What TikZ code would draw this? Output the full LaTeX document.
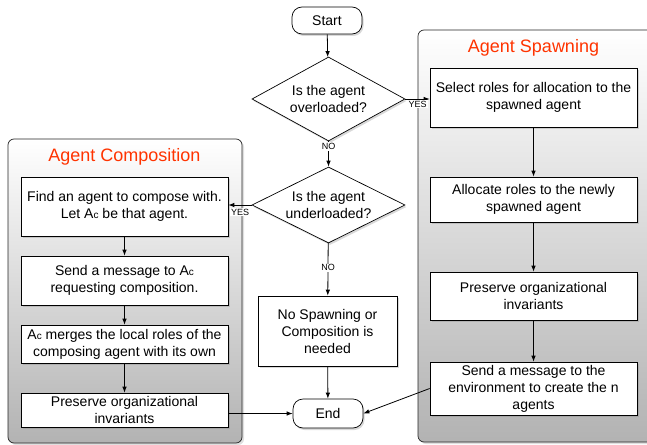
\documentclass[tikz,border=0pt]{standalone}
\usepackage{fontspec}
\setmainfont{Liberation Sans}
\usetikzlibrary{arrows.meta,shapes.geometric,shadows}
\definecolor{titlered}{RGB}{255,51,0}
\newcommand{\AgC}{A{\fontsize{10}{12}\selectfont c}}
\begin{document}
\begin{tikzpicture}[x=1pt,y=-1pt,
  shad/.style={drop shadow={opacity=0.3, shadow xshift=1.5pt, shadow yshift=-2pt}},
  box/.style={draw=black, line width=0.7pt, fill=white, rectangle, minimum width=207pt, align=center, inner sep=2pt, font=\fontsize{14}{17}\selectfont, shad},
  term/.style={draw=black, line width=0.7pt, fill=white, rounded corners=10pt, minimum width=70pt, align=center, inner sep=2pt, font=\fontsize{14}{17}\selectfont, shad},
  dia/.style={draw=black, line width=0.7pt, fill=white, diamond, inner sep=0pt, minimum width=153pt, shad},
  diatext/.style={align=center, font=\fontsize{14}{17}\selectfont, inner sep=0pt},
  cont/.style={draw=black!85, line width=0.7pt, rounded corners=6pt, top color=white, bottom color=black!30, rectangle, drop shadow={opacity=0.25, shadow xshift=2pt, shadow yshift=-2pt}},
  ttl/.style={text=titlered, font=\fontsize{18}{22}\selectfont},
  lbl/.style={fill=white, font=\fontsize{9}{10}\selectfont, inner sep=1pt},
  arr/.style={draw=black, line width=0.8pt, -{Latex[length=6pt,width=4.5pt]}}
]
\clip (0,0) rectangle (647,444);
% containers
\node[cont, minimum width=234pt, minimum height=304pt] (compbox) at (125,291) {};
\node[cont, minimum width=242pt, minimum height=412pt] (spawnbox) at (539,236) {};
\node[ttl] (tcomp) at (124.5,157) {Agent Composition};
\node[ttl] (tspawn) at (533.5,48) {Agent Spawning};
% main column
\node[term, minimum height=27pt] (start) at (327,20.5) {Start};
\node[dia, minimum height=84pt] (d1) at (328.5,99) {};
\node[diatext] (d1t) at (d1) {Is the agent\\overloaded?};
\node[dia, minimum height=76pt] (d2) at (328.5,205) {};
\node[diatext] (d2t) at (d2) {Is the agent\\underloaded?};
\node[box, minimum width=139pt, minimum height=70pt] (nosp) at (327.5,331) {No Spawning or\\Composition is\\needed};
\node[term, minimum height=29pt] (end) at (328,413.5) {End};
% spawning column
\node[box, minimum height=59pt] (sel) at (533.5,97.5) {Select roles for allocation to the\\spawned agent};
\node[box, minimum height=45pt] (alloc) at (533.5,199.5) {Allocate roles to the newly\\spawned agent};
\node[box, minimum height=48pt] (presR) at (533.5,296) {Preserve organizational\\invariants};
\node[box, minimum height=53pt] (sendR) at (533.5,388.5) {Send a message to the\\environment to create the n\\agents};
% composition column
\node[box, minimum height=59pt] (find) at (124.5,206.5) {Find an agent to compose with.\\Let \AgC{} be that agent.};
\node[box, minimum height=49pt] (sendL) at (124.5,280.5) {Send a message to \AgC\\requesting composition.};
\node[box, minimum height=38pt] (merge) at (124.5,344) {\AgC{} merges the local roles of the\\composing agent with its own};
\node[box, minimum height=34pt] (presL) at (124.5,410) {Preserve organizational\\invariants};
% connectors
\draw[arr] (start) -- (d1);
\draw[arr] (d1.east) -- (d1.east -| sel.west) node[lbl, pos=0.5, yshift=-5pt] (yes1) {YES};
\draw[arr] (d1) -- (d2) node[lbl, pos=0.2] (no1) {NO};
\draw[arr] (d2.west) -- (d2.west -| find.east) node[lbl, pos=0.5, yshift=-7pt] (yes2) {YES};
\draw[arr] (d2) -- (nosp) node[lbl, pos=0.47] (no2) {NO};
\draw[arr] (nosp) -- (end);
\draw[arr] (sel) -- (alloc);
\draw[arr] (alloc) -- (presR);
\draw[arr] (presR) -- (sendR);
\draw[arr] (find) -- (sendL);
\draw[arr] (sendL) -- (merge);
\draw[arr] (merge) -- (presL);
\draw[arr] (presL.east |- end.west) -- (end.west);
\draw[arr] (sendR.west) -- (end.east);
\end{tikzpicture}
\end{document}
